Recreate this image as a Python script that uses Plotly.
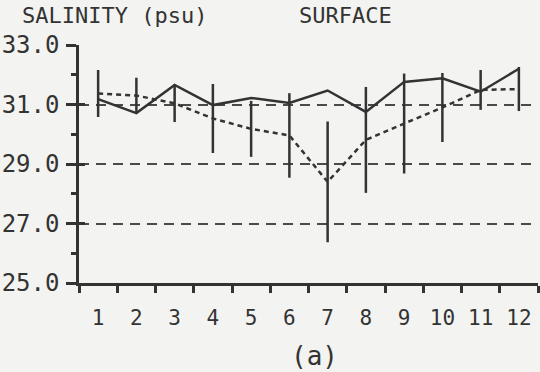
import plotly.graph_objects as go

months = list(range(1, 13))
month_labels = [str(m) for m in months]
observed = [31.18, 30.71, 31.66, 30.98, 31.22, 31.05, 31.47, 30.75, 31.76, 31.88, 31.43, 32.20]
mean_sal = [31.37, 31.30, 31.04, 30.53, 30.18, 29.96, 28.40, 29.81, 30.36, 30.90, 31.49, 31.52]
std_sal = [0.79, 0.60, 0.63, 1.16, 0.94, 1.42, 2.03, 1.78, 1.68, 1.16, 0.67, 0.74]
y_ticks = [25, 27, 29, 31, 33]
y_tick_text = ["25.0", "27.0", "29.0", "31.0", "33.0"]

INK = "#333333"
BG = "#f3f3f1"
FONT = "DejaVu Sans Mono"

fig = go.Figure()
fig.add_trace(go.Scatter(
    x=months, y=mean_sal, mode="lines",
    line=dict(color=INK, width=2.5, dash="5px,4px"),
    error_y=dict(type="data", array=std_sal, visible=True, color=INK, thickness=2.5, width=0),
    showlegend=False,
))
fig.add_trace(go.Scatter(
    x=months, y=observed, mode="lines",
    line=dict(color=INK, width=2.5),
    showlegend=False,
))
# overlay axis trace for inside ticks
fig.add_trace(go.Scatter(x=[months[0]], y=[mean_sal[0]], yaxis="y2", mode="markers",
                         marker=dict(opacity=0), showlegend=False, hoverinfo="skip"))

fig.update_layout(
    width=540, height=372,
    margin=dict(l=77, r=2, t=45, b=89),
    paper_bgcolor=BG, plot_bgcolor=BG,
    font=dict(family=FONT, color=INK),
    xaxis=dict(
        range=[0.5, 12.5], tickmode="array", tickvals=months, ticktext=month_labels,
        ticks="", showgrid=False, zeroline=False,
        showline=True, linecolor=INK, linewidth=2.5,
        tickfont=dict(size=21, family=FONT, color=INK),
        ticklabelstandoff=14,
        minor=dict(tickmode="array", tickvals=[m + 0.5 for m in [0] + months],
                   ticks="outside", ticklen=7, tickwidth=2.5, tickcolor=INK, showgrid=False),
    ),
    yaxis=dict(
        range=[25, 33], tickmode="array", tickvals=y_ticks, ticktext=y_tick_text,
        ticks="outside", ticklen=10, tickwidth=2.5, tickcolor=INK,
        showgrid=True, gridcolor="#4a4a4a", gridwidth=2.2, griddash="10px,7px",
        zeroline=False, showline=True, linecolor=INK, linewidth=2.5,
        tickfont=dict(size=24, family=FONT, color=INK),
        ticklabelstandoff=2,
        minor=dict(tickmode="array", tickvals=[26, 28, 30, 32], ticks="outside",
                   ticklen=5, tickwidth=2.5, tickcolor=INK, showgrid=False),
    ),
    yaxis2=dict(
        range=[25, 33], overlaying="y", side="left", tickmode="array", tickvals=y_ticks,
        ticks="inside", ticklen=6, tickwidth=2.5, tickcolor=INK, showticklabels=False,
        showgrid=False, zeroline=False, showline=False,
    ),
    annotations=[
        dict(text="SALINITY (psu)", xref="paper", yref="paper", x=0.078, y=1.122,
             xanchor="center", yanchor="middle",
             showarrow=False, font=dict(size=22, family=FONT, color=INK)),
        dict(text="SURFACE", xref="paper", yref="paper", x=0.581, y=1.122,
             xanchor="center", yanchor="middle",
             showarrow=False, font=dict(size=22, family=FONT, color=INK)),
        dict(text="(a)", xref="paper", yref="paper", x=0.514, y=-0.307,
             xanchor="center", yanchor="middle",
             showarrow=False, font=dict(size=26, family=FONT, color=INK)),
    ],
)

fig.write_html("out.html")
